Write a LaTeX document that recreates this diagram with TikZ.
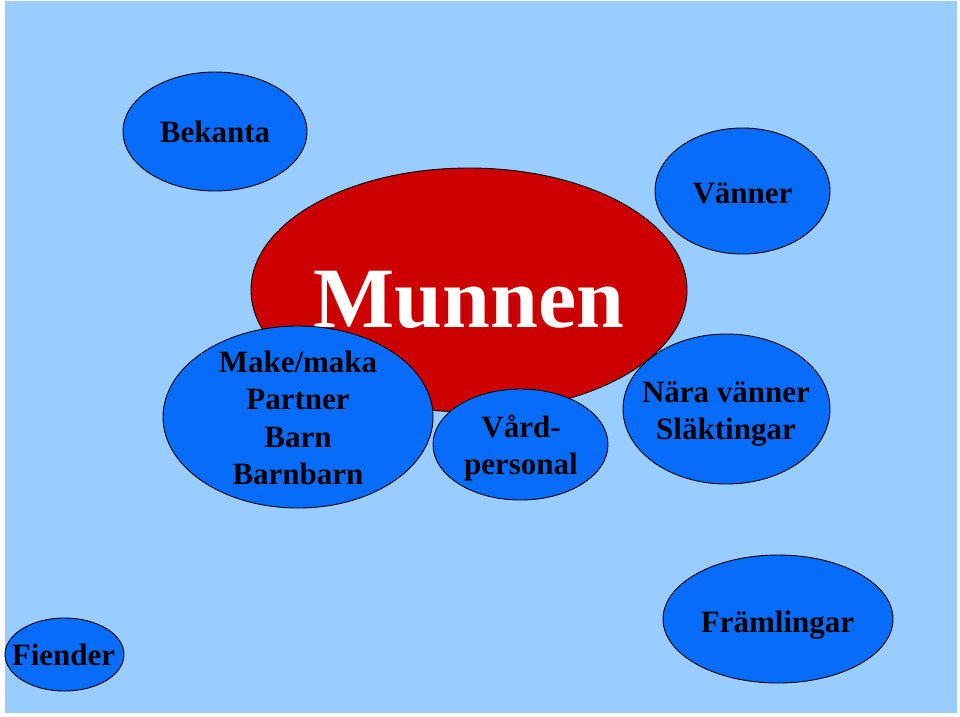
\documentclass[tikz,border=0pt]{standalone}
\usepackage{fontspec}
\setmainfont{Liberation Serif}
\definecolor{bgblue}{RGB}{153,204,255}
\definecolor{ovblue}{RGB}{8,108,250}
\definecolor{ovred}{RGB}{204,0,0}
\newcommand{\toprule}{\rule{0pt}{25pt}}
\tikzset{
  oval/.style={draw=black, line width=0.9pt, fill=ovblue},
  redoval/.style={draw=black, line width=0.9pt, fill=ovred},
  lbl/.style={inner sep=0pt, align=center, text=black,
    font={\bfseries\fontsize{31}{37.5}\selectfont}},
  biglbl/.style={inner sep=0pt, text=white, font={\bfseries\fontsize{86}{100}\selectfont}}
}
\begin{document}
\begin{tikzpicture}[x=1pt,y=-1pt]
\useasboundingbox (0,0) rectangle (960,716);
\fill[white] (0,0) rectangle (960,716);
\fill[bgblue] (5,1) rectangle (957,713);
% red central ellipse
\draw[redoval] (469,290) ellipse [x radius=218, y radius=122];
\node[biglbl, anchor=base] (munnen) at (469,327) {Munnen};
% blue ellipses
\draw[oval] (215,131.5) ellipse [x radius=92, y radius=59.5];
\node[lbl, anchor=base] (bekanta) at (215,142) {Bekanta};
\draw[oval] (742.5,191) ellipse [x radius=87.5, y radius=63];
\node[lbl, anchor=base] (vanner) at (742.5,203) {Vänner};
\draw[oval] (298,417) ellipse [x radius=135, y radius=91];
\node[lbl, anchor=north] (familj) at (298,347) {\toprule Make/maka\\Partner\\Barn\\Barnbarn};
\draw[oval] (520.5,444.5) ellipse [x radius=87.5, y radius=55.5];
\node[lbl, anchor=north] (vard) at (521,412) {\toprule Vård-\\personal};
\draw[oval] (726.5,409) ellipse [x radius=103.5, y radius=75];
\node[lbl, anchor=north] (nara) at (726,377) {\toprule Nära vänner\\Släktingar};
\draw[oval] (778,619) ellipse [x radius=115, y radius=64];
\node[lbl, anchor=base] (framlingar) at (777.5,632) {Främlingar};
\draw[oval] (64.5,654.5) ellipse [x radius=59.5, y radius=36.5];
\node[lbl, anchor=base] (fiender) at (63.5,665) {Fiender};
\end{tikzpicture}
\end{document}
